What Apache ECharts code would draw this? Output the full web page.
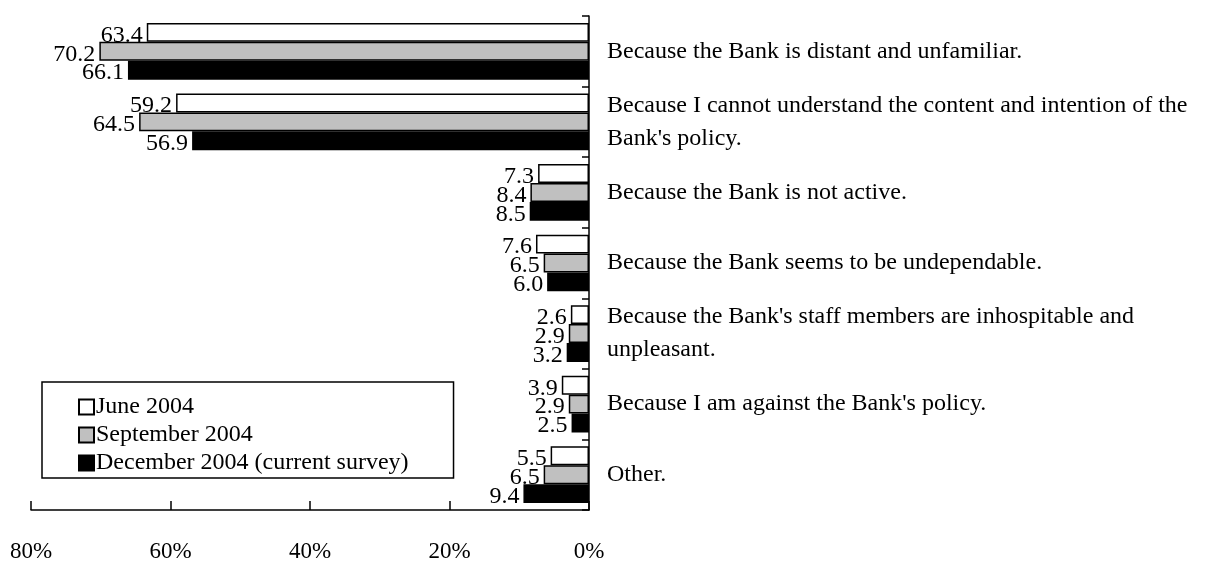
<!DOCTYPE html>
<html>
<head>
<meta charset="utf-8">
<script src="https://cdn.jsdelivr.net/npm/echarts@6/dist/echarts.min.js"></script>
<style>html,body{margin:0;padding:0;background:#fff;}#chart{width:1214px;height:563px;}</style>
</head>
<body>
<div id="chart"></div>
<script>
var categories = [
  "Because the Bank is distant and unfamiliar.",
  "Because I cannot understand the content and intention of the Bank's policy.",
  "Because the Bank is not active.",
  "Because the Bank seems to be undependable.",
  "Because the Bank's staff members are inhospitable and unpleasant.",
  "Because I am against the Bank's policy.",
  "Other."
];
var seriesNames = ["June 2004", "September 2004", "December 2004 (current survey)"];
var june2004 = [63.4, 59.2, 7.3, 7.6, 2.6, 3.9, 5.5];
var sep2004 = [70.2, 64.5, 8.4, 6.5, 2.9, 2.9, 6.5];
var dec2004 = [66.1, 56.9, 8.5, 6.0, 3.2, 2.5, 9.4];
var colors = ["#ffffff", "#c0c0c0", "#000000"];

var FONT = "'Liberation Serif', 'DejaVu Serif', serif";
var chart = echarts.init(document.getElementById('chart'), null, {renderer: 'canvas'});

function mk(name, data, color) {
  return {
    name: name,
    type: 'bar',
    data: data,
    barGap: '0%',
    barCategoryGap: '19.6%',
    itemStyle: {color: color, borderColor: '#000', borderWidth: 1.5},
    label: {
      show: true, position: 'left', distance: 4, offset: [0, 3],
      fontFamily: FONT, fontSize: 24, color: '#000',
      formatter: function (p) { return p.value.toFixed(1); }
    },
    emphasis: {disabled: true},
    animation: false
  };
}

chart.setOption({
  animation: false,
  backgroundColor: '#fff',
  grid: {left: 31, right: 624, top: 16, bottom: 51, containLabel: false},
  legend: {
    orient: 'vertical',
    left: 42, top: 382,
    width: 411,
    data: seriesNames,
    icon: 'rect',
    itemWidth: 15, itemHeight: 15, itemGap: 4,
    padding: [13, 45, 3, 36],
    backgroundColor: '#fff',
    borderColor: '#000', borderWidth: 1.5, borderRadius: 0,
    textStyle: {fontFamily: FONT, fontSize: 24, color: '#000', padding: [0, 0, 0, -3]},
    selectedMode: false
  },
  xAxis: {
    type: 'value', inverse: true, min: 0, max: 80, interval: 20,
    position: 'bottom',
    axisLine: {show: true, lineStyle: {color: '#000', width: 1.5}},
    axisTick: {show: true, inside: true, length: 9, lineStyle: {color: '#000', width: 1.5}},
    splitLine: {show: false},
    axisLabel: {formatter: '{value}%', margin: 30, fontFamily: FONT, fontSize: 23, color: '#000'}
  },
  yAxis: {
    type: 'category', inverse: true, position: 'right',
    data: categories,
    axisLine: {show: true, lineStyle: {color: '#000', width: 1.5}},
    axisTick: {show: true, inside: true, length: 7, lineStyle: {color: '#000', width: 1.5}},
    axisLabel: {
      margin: 18, fontFamily: FONT, fontSize: 24, color: '#000', align: 'left',
      width: 604, overflow: 'break', lineHeight: 33,
      showMinLabel: true, showMaxLabel: true, interval: 0
    }
  },
  series: [
    mk(seriesNames[0], june2004, colors[0]),
    mk(seriesNames[1], sep2004, colors[1]),
    mk(seriesNames[2], dec2004, colors[2])
  ]
});
</script>
</body>
</html>
